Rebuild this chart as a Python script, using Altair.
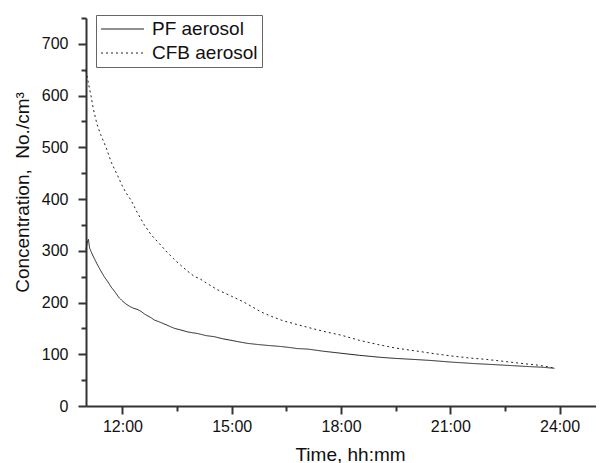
import altair as alt
import pandas as pd

pf_t = [11.0, 11.03, 11.066, 11.1, 11.18, 11.3, 11.4, 11.5, 11.6, 11.7, 11.78, 11.9, 12.0, 12.1,
        12.19, 12.3, 12.4, 12.51, 12.6, 12.7, 12.8, 12.88, 13.0, 13.2, 13.43, 13.6, 13.8, 14.07,
        14.3, 14.52, 14.75, 14.98, 15.2, 15.44, 15.7, 16.0, 16.35, 16.6, 16.8, 17.09, 17.3, 17.5,
        18.0, 18.5, 19.1, 19.5, 20.0, 20.47, 21.0, 21.66, 22.2, 22.7, 23.21, 23.5, 23.86]
pf_v = [302, 315, 322, 305, 292, 275, 262, 250, 240, 229, 222, 210, 203, 197,
        193, 189, 187, 183, 178, 174, 170, 166, 163, 157, 150, 147, 143, 140,
        136, 134, 130, 127, 124, 121, 119, 117, 115, 113, 111, 110, 108, 106,
        102, 98, 94, 92, 90, 88, 85, 82, 80, 78, 76, 75, 73]

cfb_t = [11.0, 11.05, 11.1, 11.137, 11.2, 11.3, 11.4, 11.55, 11.7, 11.85, 12.0, 12.1, 12.235,
         12.4, 12.6, 12.8, 13.0, 13.19, 13.4, 13.6, 13.8, 13.98, 14.1, 14.3, 14.6, 15.0, 15.3,
         15.53, 15.8, 16.1, 16.4, 16.82, 17.2, 17.6, 18.0, 18.5, 19.0, 19.5, 20.0, 20.48, 21.0,
         21.5, 22.0, 22.5, 23.0, 23.4, 23.67, 23.86]
cfb_v = [648, 630, 612, 600, 575, 545, 525, 500, 470, 448, 425, 412, 398,
         375, 350, 330, 315, 300, 285, 272, 260, 250, 247, 238, 225, 212, 202,
         193, 182, 173, 165, 157, 150, 143, 137, 127, 119, 112, 107, 102, 97,
         93, 90, 86, 82, 79, 76, 73]

series = ["PF aerosol", "CFB aerosol"]
x_ticks = [12, 13.5, 15, 16.5, 18, 19.5, 21, 22.5, 24]
y_ticks = list(range(0, 751, 50))

df = pd.concat([
    pd.DataFrame({"t": pf_t, "v": pf_v, "s": series[0], "o": range(len(pf_t))}),
    pd.DataFrame({"t": cfb_t, "v": cfb_v, "s": series[1], "o": range(len(cfb_t))}),
])

FONT = "Arial, Liberation Sans, sans-serif"

chart = alt.Chart(df).mark_line(strokeWidth=1, color="#222").encode(
    x=alt.X("t:Q", scale=alt.Scale(domain=[11, 25], nice=False, zero=False),
            axis=alt.Axis(values=x_ticks, title="Time, hh:mm", grid=False,
                          labelExpr="datum.value % 3 === 0 ? datum.value + ':00' : ''",
                          tickSize={"condition": {"test": "datum.value % 3 === 0", "value": 8}, "value": 5},
                          labelPadding=4, titlePadding=11, titleX=264)),
    y=alt.Y("v:Q", scale=alt.Scale(domain=[0, 750], nice=False),
            axis=alt.Axis(values=y_ticks, title="Concentration,\u00a0 No./cm³", grid=False,
                          labelExpr="datum.value % 100 === 0 ? datum.value : ''",
                          tickSize={"condition": {"test": "datum.value % 100 === 0", "value": 8}, "value": 5},
                          labelPadding=10, titlePadding=9, titleY=174)),
    strokeDash=alt.StrokeDash("s:N", scale=alt.Scale(domain=series, range=[[1, 0], [2, 3]]),
                              legend=alt.Legend(title=None, orient="none", legendX=10, legendY=-3,
                                                symbolType="stroke", symbolSize=1850,
                                                symbolStrokeColor="#222", symbolStrokeWidth=1,
                                                labelFontSize=19, labelFont=FONT, labelColor="#111",
                                                strokeColor="#666", padding=4, rowPadding=4,
                                                clipHeight=20, labelOffset=7)),
    order="o:Q",
).properties(width=510, height=388, padding={"left": 5, "top": 6, "right": 0, "bottom": 0}).configure_view(
    stroke=None
).configure_axis(
    domainColor="#333", domainWidth=2, tickColor="#333", tickWidth=2,
    labelFont=FONT, labelFontSize=16, labelColor="#111",
    titleFont=FONT, titleFontSize=19, titleFontWeight="normal", titleColor="#111",
)

chart.save("out.html", embed_options={"renderer": "svg", "actions": False})
